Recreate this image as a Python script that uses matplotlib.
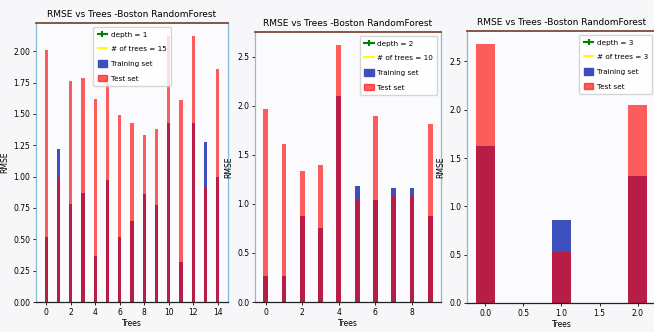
# rmse vs number of trees, boston random forest, three depths side by side

import numpy as np
import matplotlib
matplotlib.use("Agg")
import matplotlib.pyplot as plt
from matplotlib.lines import Line2D
from matplotlib.patches import Patch

plt.rcParams['font.family'] = ['Liberation Sans Narrow', 'DejaVu Sans']

# values
train_d1 = [0.52, 1.22, 0.78, 0.87, 0.37, 0.97, 0.52, 0.65, 0.86, 0.77, 1.43, 0.32, 1.43, 1.28, 1.00]
test_d1 = [2.01, 0.99, 1.76, 1.79, 1.62, 1.75, 1.49, 1.43, 1.33, 1.38, 2.12, 1.61, 2.12, 0.92, 1.86]

train_d2 = [0.26, 0.27, 0.88, 0.75, 2.10, 1.18, 1.04, 1.16, 1.16, 0.88]
test_d2 = [1.97, 1.61, 1.33, 1.40, 2.62, 1.05, 1.90, 1.08, 1.08, 1.81]

train_d3 = [1.62, 0.86, 1.31]
test_d3 = [2.68, 0.53, 2.05]

depths = [1, 2, 3]
trains = [train_d1, train_d2, train_d3]
tests = [test_d1, test_d2, test_d3]
legend_locs = ["upper center", "upper right", "upper right"]

train_color = "#3d4fbd"
test_color = "red"

# axes boxes in pixels (left, top, right, bottom) on a 654x332 canvas
W, H = 654, 332
boxes = [(36, 23, 228, 302), (255, 32, 441, 302), (467, 31, 656, 303)]

fig = plt.figure(figsize=(W / 100, H / 100), dpi=100)
fig.patch.set_facecolor("#f7f7f9")

for depth, train, test, loc, (l, t, r, b) in zip(depths, trains, tests, legend_locs, boxes):
    ax = fig.add_axes([l / W, 1 - b / H, (r - l) / W, (b - t) / H])
    ax.set_facecolor("#fbfbfd")
    x = np.arange(len(train))
    ax.bar(x, train, width=0.26, color=train_color)
    ax.bar(x, test, width=0.26, color=test_color, alpha=0.63)

    ax.set_title("RMSE vs Trees -Boston RandomForest", fontsize=6.5, pad=4)
    ax.set_xlabel("Trees", fontsize=5.5, labelpad=2)
    ax.set_ylabel("RMSE", fontsize=5.5, labelpad=3)
    ax.tick_params(labelsize=5.5, length=2, width=0.6, pad=2)

    ax.spines["left"].set_color("#86bcd4")
    ax.spines["right"].set_color("#86bcd4")
    ax.spines["bottom"].set_color("#222222")
    ax.spines["top"].set_color("#7a4a3a")
    for s in ax.spines.values():
        s.set_linewidth(0.9)
    ax.spines["top"].set_linewidth(1.3)
    ax.spines["top"].set_zorder(3)

    handles = [
        Line2D([0], [0], color="green", marker="+", markersize=5, markeredgewidth=1.5, lw=1.5),
        Line2D([0], [0], color="yellow", lw=1.5),
        Patch(color=train_color),
        Patch(color=test_color, alpha=0.63),
    ]
    labels = ["depth = %d" % depth, "# of trees = %d" % len(train), "Training set", "Test set"]
    ax.legend(handles, labels, loc=loc, fontsize=5.2, handlelength=1.3, handleheight=1.0,
              handletextpad=0.5, borderpad=0.6, labelspacing=1.1, framealpha=0.8)

plt.savefig("out.png", dpi=100, facecolor=fig.get_facecolor())
